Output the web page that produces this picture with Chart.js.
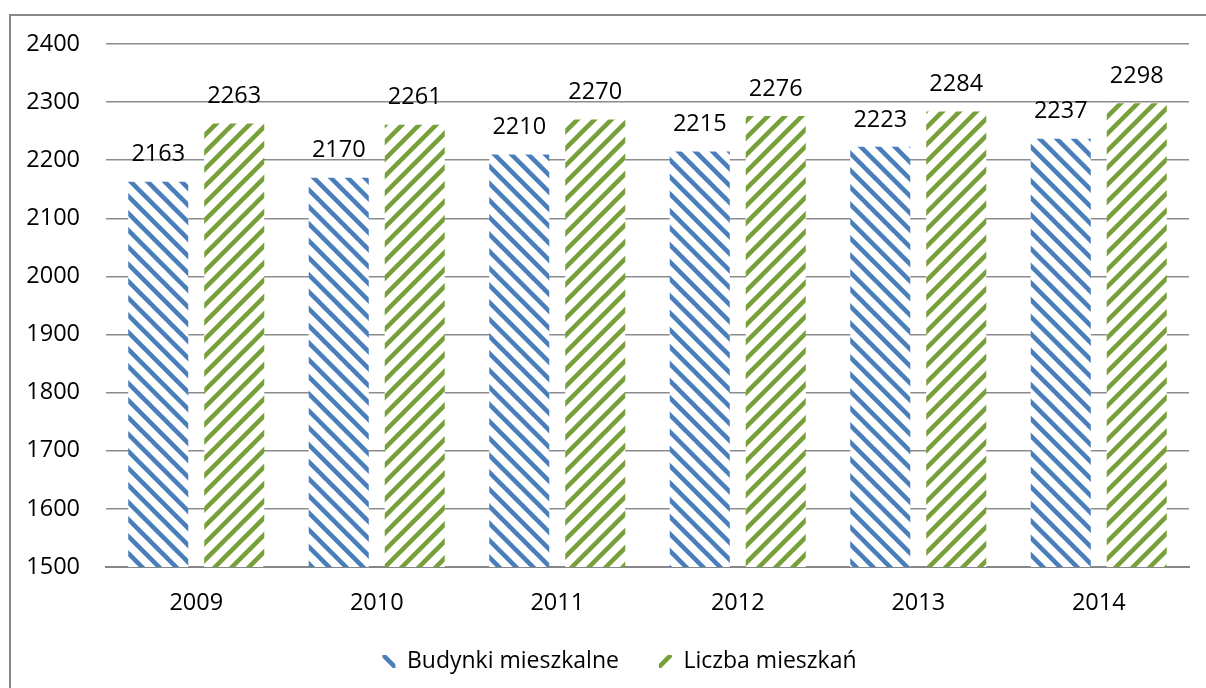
<!DOCTYPE html>
<html>
<head>
<meta charset="utf-8">
<script src="https://cdn.jsdelivr.net/npm/chart.js@4"></script>
<style>
  html, body { margin: 0; padding: 0; background: #fff; }
  #wrap { width: 1206px; height: 688px; }
</style>
</head>
<body>
<div id="wrap"><canvas id="chart" width="1206" height="688"></canvas></div>
<script>
// === DATA ===
const years = ["2009", "2010", "2011", "2012", "2013", "2014"];
const budynki = [2163, 2170, 2210, 2215, 2223, 2237];
const mieszkania = [2263, 2261, 2270, 2276, 2284, 2298];
const seriesNames = ["Budynki mieszkalne", "Liczba mieszkań"];
const yTicks = [1500, 1600, 1700, 1800, 1900, 2000, 2100, 2200, 2300, 2400];

const FONT = "'Open Sans', sans-serif";
const ctx = document.getElementById("chart").getContext("2d");

// === STRIPE PATTERNS ===
function stripes(color, back) {
  const s = 17;
  const c = document.createElement("canvas");
  c.width = s; c.height = s;
  const p = c.getContext("2d");
  p.fillStyle = "#fff";
  p.fillRect(0, 0, s, s);
  p.strokeStyle = color;
  p.lineWidth = 4.5;
  p.beginPath();
  if (back) {
    // "\" direction
    p.moveTo(-s, 0); p.lineTo(s, 2 * s);
    p.moveTo(0, 0); p.lineTo(s, s);
    p.moveTo(0, -s); p.lineTo(2 * s, s);
  } else {
    // "/" direction
    p.moveTo(0, s); p.lineTo(s, 0);
    p.moveTo(-s, s); p.lineTo(s, -s);
    p.moveTo(0, 2 * s); p.lineTo(2 * s, 0);
  }
  p.stroke();
  return ctx.createPattern(c, "repeat");
}

const bluePat = stripes("#4a7ebb", true);
const greenPat = stripes("#77a03a", false);

// === PLUGINS ===
const framePlugin = {
  id: "frame",
  afterLayout(chart) {
    // legend sits right under the year labels, a bit right of centre
    const lg = chart.legend;
    lg.top = 610;
    lg.bottom = 688;
    lg.height = 78;
    lg.left += 20;
    lg.right += 20;
  },
  beforeDraw(chart) {
    const c = chart.ctx;
    c.save();
    c.strokeStyle = "#878787";
    c.lineWidth = 2;
    c.beginPath();
    c.moveTo(10, chart.height);
    c.lineTo(10, 15);
    c.lineTo(chart.width, 15);
    c.stroke();
    c.restore();
  },
};

const valueLabels = {
  id: "valueLabels",
  afterDatasetsDraw(chart) {
    const c = chart.ctx;
    c.save();
    c.font = "23.5px " + FONT;
    c.fillStyle = "#000";
    c.textAlign = "center";
    c.textBaseline = "middle";
    chart.data.datasets.forEach((ds, i) => {
      chart.getDatasetMeta(i).data.forEach((bar, j) => {
        c.fillText(ds.data[j], bar.x, bar.y - 27);
      });
    });
    c.restore();
  },
};

// === CHART ===
new Chart(ctx, {
  type: "bar",
  data: {
    labels: years,
    datasets: [
      { label: seriesNames[0], data: budynki, backgroundColor: bluePat },
      { label: seriesNames[1], data: mieszkania, backgroundColor: greenPat },
    ],
  },
  options: {
    responsive: false,
    animation: false,
    layout: { padding: { left: 10, right: 17, top: 44, bottom: 7 } },
    datasets: { bar: { categoryPercentage: 0.842, barPercentage: 0.79 } },
    plugins: {
      legend: {
        position: "bottom",
        maxHeight: 50,
        labels: {
          boxWidth: 13,
          boxHeight: 13,
          padding: 40,
          color: "#000",
          font: { family: FONT, size: 23 },
        },
      },
      tooltip: { enabled: false },
    },
    scales: {
      x: {
        grid: { display: false, drawTicks: false },
        border: { display: true, color: "#868686", width: 2 },
        ticks: { color: "#000", padding: 22, font: { family: FONT, size: 23.5 } },
        afterFit(s) { s.height = 64; },
      },
      y: {
        min: 1500,
        max: 2400,
        afterBuildTicks(s) { s.ticks = yTicks.map((v) => ({ value: v })); },
        grid: { color: "#8c8c8c", lineWidth: 1.5, drawTicks: false },
        border: { display: false },
        ticks: {
          color: "#000",
          padding: 26,
          font: { family: FONT, size: 23.5 },
          callback: (v) => String(v),
        },
        afterFit(s) { s.width = 96; },
      },
    },
  },
  plugins: [framePlugin, valueLabels],
});
</script>
</body>
</html>
